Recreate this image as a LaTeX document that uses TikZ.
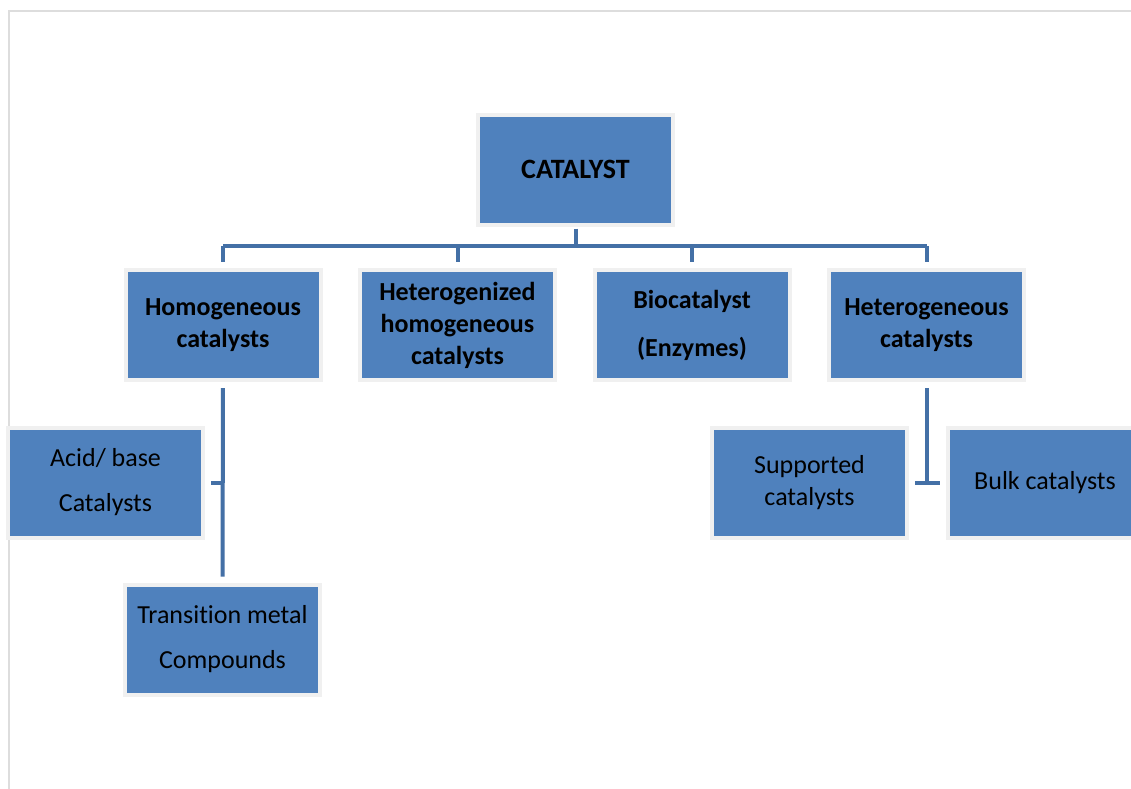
\documentclass[tikz,border=0pt]{standalone}
\usepackage{fontspec}
\setmainfont{Carlito}[Ligatures=NoCommon]
\definecolor{boxfill}{HTML}{4F81BD}
\definecolor{boxedge}{HTML}{F0F0F0}
\definecolor{conncol}{HTML}{4470A6}
\definecolor{framecol}{HTML}{DDDDDD}
\begin{document}
\begin{tikzpicture}[x=0.5pt,y=-0.5pt,
  box/.style={rectangle, fill=boxfill, draw=boxedge, line width=2pt,
    minimum width=97.5pt, minimum height=55pt, inner sep=0pt, align=center,
    font=\fontsize{13}{16}\selectfont, text=black},
  boldbox/.style={box, font=\fontsize{13}{16}\selectfont\bfseries},
  conn/.style={draw=conncol, line width=2pt}]
\clip (0,0) rectangle (1131,788);
\fill[white] (0,0) rectangle (1131,788);
\draw[framecol, line width=1pt] (9,800) -- (9,11) -- (1140,11);
\coordinate (bus) at (575,246);
% nodes
\node[boldbox, font=\fontsize{14}{17}\selectfont\bfseries] (cat) at (575.5,169.5) {CATALYST};
\node[boldbox] (homo) at (223,325) {Homogeneous\\catalysts};
\node[boldbox] (hetz) at (457.5,325) {Heterogenized\\homogeneous\\catalysts};
\node[boldbox] (bio) at (692,325) {Biocatalyst\\[8pt](Enzymes)};
\node[boldbox] (hete) at (926.5,325) {Heterogeneous\\catalysts};
\node[box] (acid) at (105.5,482.5) {Acid/ base\\[6.5pt]Catalysts};
\node[box] (trans) at (222.5,639.5) {Transition metal\\[6.5pt]Compounds};
\node[box] (supp) at (809.5,482.5) {Supported\\catalysts};
\node[box] (bulk) at (1045,482.5) {Bulk catalysts};
\coordinate (hj) at (hete.south |- supp.east);
% connectors
\begin{scope}[shorten >=3pt, shorten <=3pt]
\draw[conn, shorten >=0pt, shorten <=1pt] (cat.south) -- (cat.south |- bus);
\draw[conn, shorten >=0pt, shorten <=0pt] (homo.north |- bus) -- (hete.north |- bus);
\draw[conn, shorten <=0pt] (homo.north |- bus) -- (homo.north);
\draw[conn, shorten <=0pt] (hetz.north |- bus) -- (hetz.north);
\draw[conn, shorten <=0pt] (bio.north |- bus) -- (bio.north);
\draw[conn, shorten <=0pt] (hete.north |- bus) -- (hete.north);
\draw[conn] (homo.south) -- (trans.north);
\draw[conn, shorten >=0pt] (acid.east) -- (homo.south |- acid.east);
\draw[conn, shorten >=0pt] (hete.south) -- (hj);
\draw[conn] (supp.east) -- (bulk.west);
\end{scope}
\end{tikzpicture}
\end{document}
